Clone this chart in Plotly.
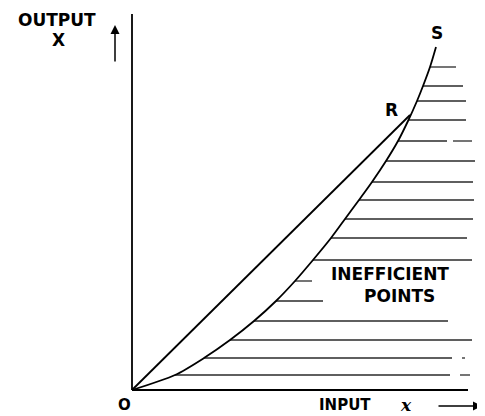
import plotly.graph_objects as go

# frontier curve O..R..S (input, output)
curve_x = [0, 4.3, 7.2, 9.8, 12.2, 14.4, 16.3, 18.1, 19.9, 21.3, 22.7, 24.0, 25.4, 26.6, 27.6, 28.5, 29.1, 29.8, 30.4]
curve_y = [0, 1.5, 3.2, 5.0, 6.9, 8.9, 10.9, 13.0, 15.2, 17.1, 19.0, 20.8, 22.9, 24.9, 26.9, 28.9, 30.4, 32.3, 34.3]

# straight ray O -> R
ray_x = [0, 27.8]
ray_y = [0, 27.5]

# hatching of inefficient points
hatch_y = [32.3, 30.4, 28.9, 27.0, 24.9, 22.9, 20.8, 19.0, 17.1, 15.2, 13.0, 10.9, 8.9, 6.9, 5.0, 3.2, 1.5]
hatch_start = [29.8, 29.1, 28.5, 27.6, 26.6, 25.4, 24.0, 22.7, 21.3, 19.9, 18.1, 16.3, 14.4, 12.2, 9.8, 7.2, 4.3]
hatch_end = [32.4, 33.1, 33.4, 33.4, 31.5, 34.3, 34.1, 34.2, 34.1, 33.5, 34.0, 18.0, 19.1, 31.6, 34.0, 32.0, 31.8]

# small broken bits at the right edge
dash_y = [24.9, 3.2, 1.5]
dash_start = [32.1, 33.0, 32.8]
dash_end = [34.0, 33.3, 33.8]

# axes
axis_x_end = 33.6
axis_y_end = 37.6

fig = go.Figure()

hx, hy = [], []
for y, a, b in zip(hatch_y, hatch_start, hatch_end):
    hx += [a, b, None]
    hy += [y, y, None]
for y, a, b in zip(dash_y, dash_start, dash_end):
    hx += [a, b, None]
    hy += [y, y, None]
fig.add_trace(go.Scatter(x=hx, y=hy, mode="lines", line=dict(color="#2a2a2a", width=1.3)))

fig.add_trace(go.Scatter(x=[0, 0, None, 0, axis_x_end], y=[axis_y_end, 0, None, 0, 0],
                         mode="lines", line=dict(color="black", width=1.8)))
fig.add_trace(go.Scatter(x=curve_x, y=curve_y, mode="lines",
                         line=dict(color="black", width=1.8, shape="spline", smoothing=0.8)))
fig.add_trace(go.Scatter(x=ray_x, y=ray_y, mode="lines", line=dict(color="black", width=1.8)))

font = dict(family="DejaVu Sans", size=17, color="black")
labels = [
    ("<b>OUTPUT</b>", -7.5, 37.0),
    ("<b>X</b>", -7.4, 35.0),
    ("<b>S</b>", 30.5, 35.7),
    ("<b>R</b>", 25.9, 28.0),
    ("<b>INEFFICIENT</b>", 25.8, 11.6),
    ("<b>POINTS</b>", 26.7, 9.4),
]
for t, x, y in labels:
    fig.add_annotation(x=x, y=y, text=t, showarrow=False, font=font)

bottom_font = dict(family="DejaVu Sans", size=15, color="black")
fig.add_annotation(x=-0.8, y=-1.5, text="<b>O</b>", showarrow=False, font=bottom_font)
fig.add_annotation(x=21.3, y=-1.5, text="<b>INPUT</b>", showarrow=False, font=bottom_font)
fig.add_annotation(x=27.4, y=-1.5, text="<b><i>x</i></b>", showarrow=False,
                   font=dict(family="DejaVu Serif", size=17, color="black"))

# direction arrows
fig.add_annotation(x=-1.7, y=36.5, ax=-1.7, ay=32.7, axref="x", ayref="y", text="",
                   showarrow=True, arrowhead=2, arrowsize=1.2, arrowwidth=1.5, arrowcolor="black")
fig.add_annotation(x=35.0, y=-1.6, ax=30.5, ay=-1.6, axref="x", ayref="y", text="",
                   showarrow=True, arrowhead=2, arrowsize=1.2, arrowwidth=1.5, arrowcolor="black")

# page body keeps an 8px margin, so ranges are shifted to put O where it belongs
fig.update_layout(width=485, height=416, margin=dict(l=0, r=0, t=0, b=0),
                  plot_bgcolor="white", paper_bgcolor="white", showlegend=False)
fig.update_xaxes(range=[-12.4, 36.1], visible=False)
fig.update_yaxes(range=[-3.4, 38.2], visible=False)

fig.write_html("out.html")
